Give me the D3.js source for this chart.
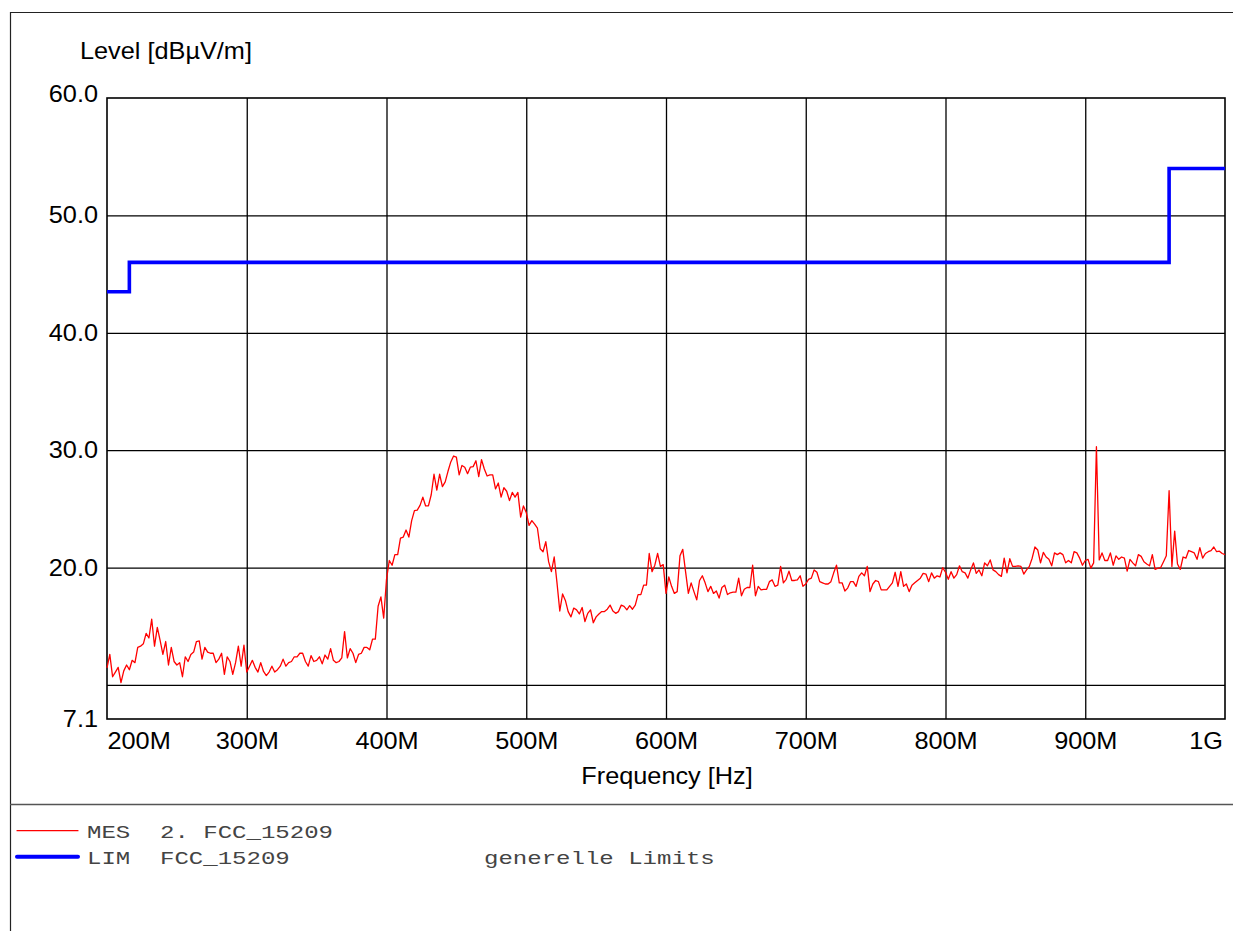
<!DOCTYPE html>
<html><head><meta charset="utf-8">
<script src="https://cdn.jsdelivr.net/npm/d3@7"></script>
<style>
body{margin:0;background:#fff;}
svg{display:block;}
</style></head><body>
<svg id="c" width="1233" height="931"></svg>
<script>
// ---- data ----
const mesStartMHz = 200;
const mesStepMHz = 2;
const mesLevels = [
 11.45,12.6,10.7,11.1,11.5,10.2,11.2,11.7,11.3,12.1,
 11.9,13.2,13.3,13.5,14.4,14.0,15.6,13.3,14.9,13.8,
 12.6,13.7,11.7,13.2,12.0,11.7,11.9,10.7,12.4,12.0,
 12.6,12.8,13.7,13.75,12.2,13.2,12.8,12.7,12.7,11.9,
 12.2,12.7,10.9,12.4,12.0,10.9,11.9,13.3,11.6,13.4,
 11.1,11.6,12.1,11.5,11.1,11.9,11.15,10.8,11.1,11.6,
 11.1,11.3,11.6,12.2,11.6,11.9,12.0,12.4,12.4,12.7,
 12.7,12.0,
 11.6,12.5,12.0,12.1,12.4,11.8,12.55,12.2,13.1,12.1,
 11.9,12.0,12.3,14.55,12.3,13.1,12.7,11.9,12.6,12.7,
 13.2,13.2,13.0,13.9,13.9,16.7,17.5,15.7,19.0,20.6,
 20.2,21.1,21.1,22.5,22.6,23.2,22.6,24.0,24.85,24.9,
 25.3,26.0,25.25,25.25,26.2,27.95,26.6,27.95,26.9,27.3,
 28.2,29.0,29.5,29.4,27.9,28.7,28.55,28.0,28.55,28.6,
 29.1,27.75,29.2,28.4,27.8,27.9,27.9,26.7,27.2,26.0,
 26.8,26.5,25.7,26.4,26.0,26.4,24.3,25.25,24.7,
 23.6,24.0,23.7,23.35,21.6,21.35,22.2,20.5,19.65,20.9,
 18.7,16.3,17.75,17.2,16.25,15.8,16.55,16.4,16.05,16.6,
 15.4,16.1,16.4,15.3,15.8,16.05,16.25,16.25,16.45,16.8,
 16.3,16.1,16.25,16.8,16.7,16.4,16.75,16.45,16.8,17.7,
 17.7,18.5,18.5,21.2,19.65,20.2,21.2,20.1,20.25,17.8,
 19.2,18.4,17.8,17.95,21.0,21.55,19.65,17.8,18.7,17.95,
 17.25,18.9,19.3,18.7,17.95,18.4,17.8,18.0,17.4,18.3,
 18.5,17.7,17.85,17.9,17.9,19.1,17.6,18.15,18.3,18.3,
 20.2,17.6,18.4,18.1,18.15,18.15,18.8,18.95,18.4,18.5,
 20.1,18.7,19.0,19.7,18.9,18.9,18.95,19.3,18.4,18.6,
 19.0,19.1,19.8,19.6,18.8,18.7,18.6,18.6,18.8,19.55,
 20.2,18.7,18.7,18.0,18.25,18.8,18.8,18.4,19.25,19.55,
 19.3,20.1,17.95,18.6,18.9,18.8,18.1,18.1,18.1,18.4,
 18.7,19.6,18.4,19.65,18.4,18.6,17.95,18.5,18.7,18.9,
 19.1,19.5,19.45,18.8,19.55,19.1,19.3,19.2,20.0,19.6,
 19.0,19.65,19.1,19.4,20.15,19.65,19.55,19.1,19.8,20.4,
 19.5,19.8,19.3,20.4,20.15,20.65,19.8,19.65,19.4,19.25,
 20.8,19.55,20.75,20.1,20.1,20.15,20.1,19.45,19.8,20.1,
 20.8,21.75,21.5,20.4,21.3,20.9,20.7,20.15,21.25,21.1,
 21.25,21.1,20.4,20.6,20.4,21.35,21.25,20.8,20.2,20.6,
 20.7,19.95,20.4,30.3,20.65,21.25,20.6,20.6,21.25,20.2,
 21.0,20.7,20.9,20.8,19.7,20.7,20.4,20.15,21.1,20.95,
 20.5,20.3,20.15,21.1,19.85,19.95,20.0,20.5,21.0,26.55,
 20.1,23.1,20.3,19.85,20.9,20.8,21.45,21.35,21.25,20.7,
 21.7,20.8,21.2,21.35,21.45,21.75,21.35,21.4,21.2,21.1
];
const limFreqMHz = [200, 216, 960, 1000];
const limLevels  = [43.5, 46, 54, 54];

const xTickValues = [200, 300, 400, 500, 600, 700, 800, 900, 1000];
const xTickLabels = ["200M","300M","400M","500M","600M","700M","800M","900M","1G"];
const xGridValues = [300, 400, 500, 600, 700, 800, 900];
const yTickValues = [60, 50, 40, 30, 20, 7.1];
const yTickLabels = ["60.0","50.0","40.0","30.0","20.0","7.1"];
const yGridValues = [10, 20, 30, 40, 50];

const yTitle = "Level [dBµV/m]";
const xTitle = "Frequency [Hz]";
const legendCodes = ["MES", "LIM"];
const legendNames = ["2. FCC_15209", "FCC_15209"];
const legendNotes = ["", "generelle Limits"];
const legendColors = ["#ff0000", "#0000ff"];
const legendWidths = [1.2, 4];

// ---- layout ----
const L = 107, R = 1225, T = 98, B = 719;
const svg = d3.select("#c");
const x = d3.scaleLinear().domain([200, 1000]).range([L, R]);
const y = d3.scaleLinear().domain([7.1, 60]).range([B, T]);
const SANS = "'Liberation Sans', Arial, Helvetica, sans-serif";
const SX = 1.1;
const FS = "23px";

// outer frame
svg.append("path").attr("d", "M10.5,931 V12.5 H1233").attr("fill","none").attr("stroke","#222").attr("stroke-width",1.2);
svg.append("line").attr("x1",10).attr("x2",1233).attr("y1",804.5).attr("y2",804.5).attr("stroke","#555").attr("stroke-width",1.3);

// grid
svg.append("g").attr("transform",`translate(0,${B})`)
  .call(d3.axisBottom(x).tickValues(xGridValues).tickSize(-(B-T)).tickFormat(""))
  .call(g=>g.select(".domain").remove())
  .selectAll("line").attr("stroke","#000").attr("stroke-width",1.3);
svg.append("g").attr("transform",`translate(${L},0)`)
  .call(d3.axisLeft(y).tickValues(yGridValues).tickSize(-(R-L)).tickFormat(""))
  .call(g=>g.select(".domain").remove())
  .selectAll("line").attr("stroke","#000").attr("stroke-width",1.3);

// plot frame
svg.append("rect").attr("x",L).attr("y",T).attr("width",R-L).attr("height",B-T)
  .attr("fill","none").attr("stroke","#000").attr("stroke-width",1.6);

// x tick labels
const xa = svg.append("g").attr("transform","translate(0,748.5)")
  .call(d3.axisBottom(x).tickValues(xTickValues).tickSize(0).tickPadding(0).tickFormat((d,i)=>xTickLabels[i]))
  .call(g=>g.select(".domain").remove());
xa.selectAll("text")
  .attr("y",0).attr("dy",0)
  .attr("transform",`scale(${SX},1)`)
  .attr("fill","#000")
  .style("font-family",SANS).style("font-size",FS)
  .attr("text-anchor",(d,i)=> i===0 ? "start" : (i===xTickValues.length-1 ? "end" : "middle"));
xa.selectAll(".tick").filter((d,i)=>i===xTickValues.length-1).attr("transform",`translate(${x(1000)-2},0)`);

// y tick labels
const ya = svg.append("g").attr("transform",`translate(98,0)`)
  .call(d3.axisLeft(y).tickValues(yTickValues).tickSize(0).tickPadding(0).tickFormat((d,i)=>yTickLabels[i]))
  .call(g=>g.select(".domain").remove());
ya.selectAll("text")
  .attr("x",0).attr("dy",(d,i)=> i===0 ? "3.5px" : "7.5px")
  .attr("transform",`scale(${SX},1)`)
  .attr("fill","#000")
  .style("font-family",SANS).style("font-size",FS)
  .attr("text-anchor","end");

// titles
svg.append("text").attr("transform",`translate(80,58.5) scale(${SX},1)`)
  .style("font-family",SANS).style("font-size",FS).attr("fill","#000").text(yTitle);
svg.append("text").attr("transform",`translate(${(L+R)/2+1},784) scale(${SX},1)`)
  .attr("text-anchor","middle")
  .style("font-family",SANS).style("font-size",FS).attr("fill","#000").text(xTitle);

// measurement trace
const mes = mesLevels.map((v,i)=>({f: mesStartMHz + i*mesStepMHz, v}));
svg.append("path").datum(mes)
  .attr("fill","none").attr("stroke","#ff0000").attr("stroke-width",1.3).attr("stroke-linejoin","round")
  .attr("d", d3.line().x(d=>x(d.f)).y(d=>y(d.v)));

// limit line
const lim = limFreqMHz.map((f,i)=>({f, v: limLevels[i]}));
svg.append("path").datum(lim)
  .attr("fill","none").attr("stroke","#0000ff").attr("stroke-width",3.6)
  .attr("d", d3.line().curve(d3.curveStepAfter).x(d=>x(d.f)).y(d=>y(d.v)));

// legend
const MONO = "'Liberation Mono', 'Courier New', Courier, monospace";
const rowY = [838.3, 864];
const lineY = [830.7, 856.7];
legendCodes.forEach((c,i)=>{
  svg.append("line").attr("x1",17).attr("x2",78).attr("y1",lineY[i]).attr("y2",lineY[i])
    .attr("stroke",legendColors[i]).attr("stroke-width",legendWidths[i]).attr("stroke-linecap","round");
  const cols = [[87,c],[160,legendNames[i]],[484,legendNotes[i]]];
  cols.forEach(([cx,t])=>{
    if(!t) return;
    svg.append("text").attr("transform",`translate(${cx},${rowY[i]}) scale(1.3,1)`)
      .style("font-family",MONO).style("font-size","18.5px").attr("fill","#444").text(t);
  });
});
</script>
</body></html>
